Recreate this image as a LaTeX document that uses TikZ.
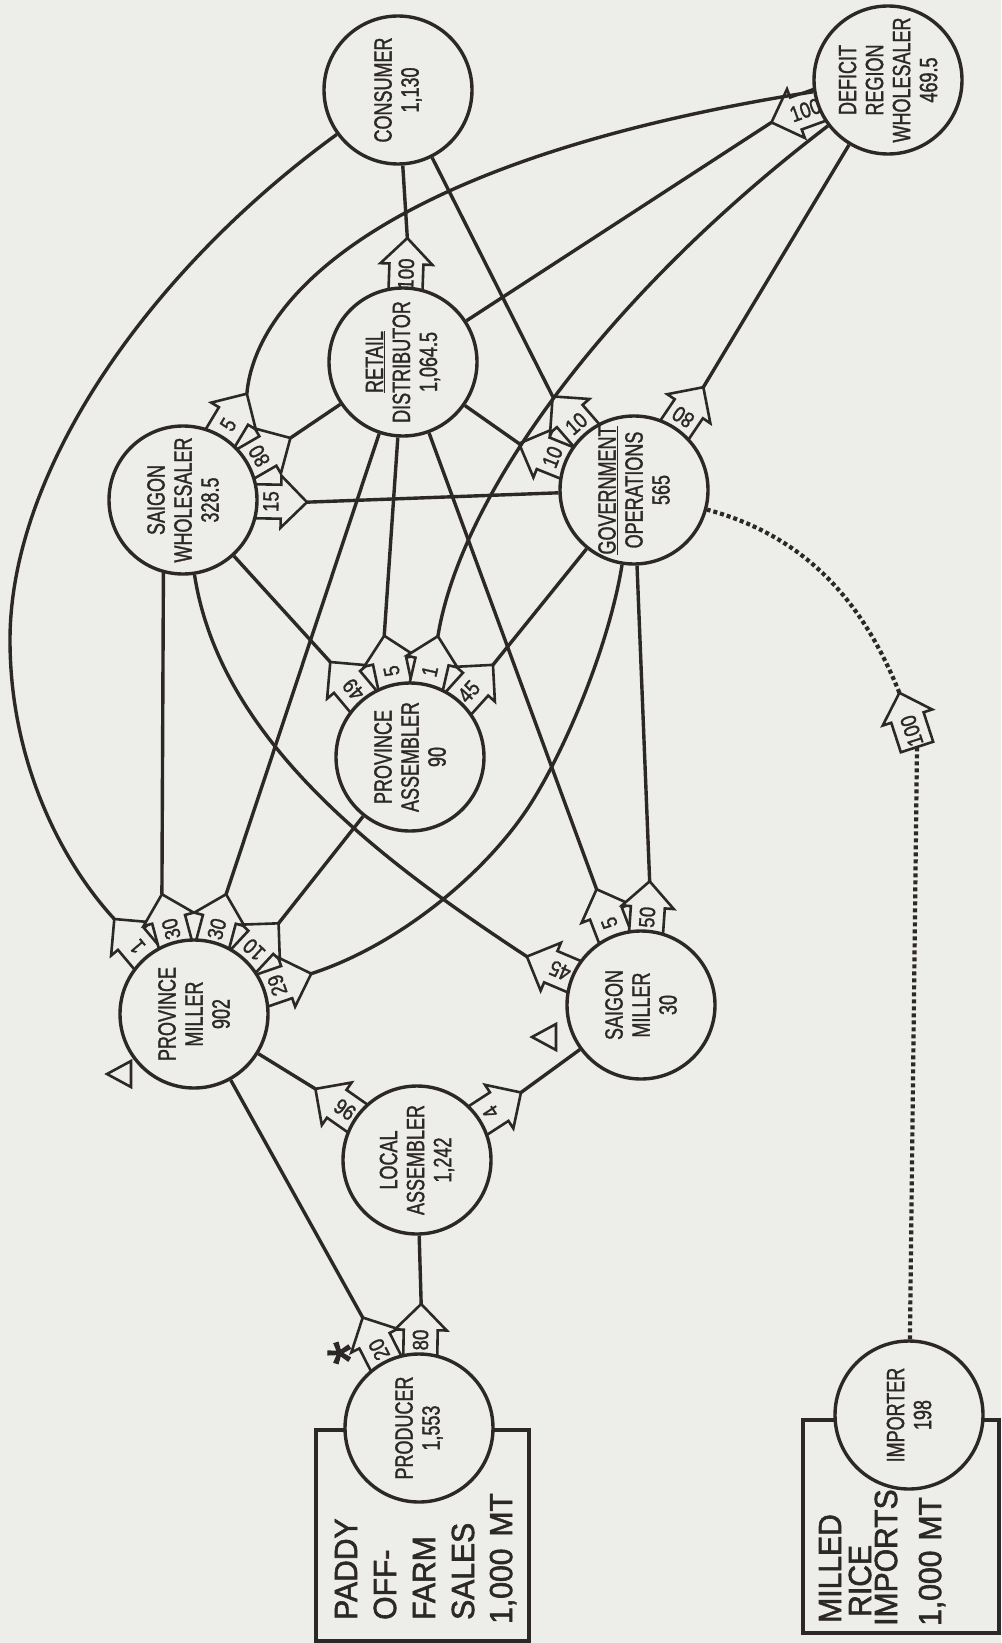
\documentclass[tikz,border=0pt]{standalone}
\usepackage{fontspec}
\setmainfont{Liberation Sans}
\newfontfamily\nfont[FakeStretch=0.72,FakeBold=1.2]{Liberation Sans}
\newfontfamily\lfont[FakeStretch=0.85,FakeBold=1.3]{Liberation Sans}
\newfontfamily\bfont[FakeStretch=0.94,FakeBold=1.8]{Liberation Sans}
\definecolor{bg}{RGB}{237,237,234}
\definecolor{ink}{RGB}{45,40,40}
\pgfdeclarelayer{front}
\pgfsetlayers{main,front}
\tikzset{
  circ/.style={circle, draw=ink, line width=3.4pt, fill=bg, minimum size=148pt, inner sep=0pt},
  ctext/.style={rotate=90, align=center, text=ink, inner sep=0pt, font=\nfont\fontsize{25}{27}\selectfont},
  conn/.style={draw=ink, line width=3.4pt},
  dotline/.style={draw=ink, line width=4.2pt, dash pattern=on 4pt off 3pt},
  arrowbox/.style={draw=ink, fill=bg, line width=2.6pt, line join=miter},
  alab/.style={text=ink, inner sep=0pt, font=\lfont\fontsize{22}{23}\selectfont},
  boxtext/.style={rotate=90, anchor=west, text=ink, inner sep=0pt, font=\bfont\fontsize{32}{36}\selectfont},
  boxline/.style={draw=ink, line width=3.2pt},
  marker/.style={draw=ink, line width=2.6pt, line join=miter},
}
\newcommand\flowarrow[5]{%
  \begin{scope}[shift={(#1.center)}, rotate=#2]
    \path[arrowbox] (68,17) -- (98,17) -- (98,26) -- (124,0) -- (98,-26) -- (98,-17) -- (68,-17);
    \coordinate (#5) at (124,0);
    \node[alab, rotate=#4] (#5-l) at (88,0) {#3};
  \end{scope}}
\begin{document}
\begin{tikzpicture}[x=1pt,y=-1pt]
\useasboundingbox (0,0) rectangle (1001,1643);
\fill[bg] (0,0) rectangle (1001,1643);

% ---------- circles (front layer) ----------
\begin{pgfonlayer}{front}
\node[circ] (con) at (398,90) {};
\node[circ] (ret) at (403,362) {};
\node[circ] (def) at (888,80) {};
\node[circ] (gov) at (634,490) {};
\node[circ] (sw)  at (183,500) {};
\node[circ] (pa)  at (410,757) {};
\node[circ] (pm)  at (194,1014) {};
\node[circ] (sm)  at (641,1005) {};
\node[circ] (la)  at (417,1160) {};
\node[circ] (pro) at (419,1428) {};
\node[circ] (imp) at (909,1415) {};
\node[ctext] (con-t) at (con) {CONSUMER\\1,130};
\node[ctext] (ret-t) at (ret) {\underline{RETAIL}\\DISTRIBUTOR\\1,064.5};
\node[ctext] (def-t) at (def) {DEFICIT\\REGION\\WHOLESALER\\469.5};
\node[ctext] (gov-t) at (gov) {\underline{GOVERNMENT}\\OPERATIONS\\565};
\node[ctext] (sw-t)  at (sw)  {SAIGON\\WHOLESALER\\328.5};
\node[ctext] (pa-t)  at (pa)  {PROVINCE\\ASSEMBLER\\90};
\node[ctext] (pm-t)  at (pm)  {PROVINCE\\MILLER\\902};
\node[ctext] (sm-t)  at (sm)  {SAIGON\\MILLER\\30};
\node[ctext] (la-t)  at (la)  {LOCAL\\ASSEMBLER\\1,242};
\node[ctext] (pro-t) at (pro) {PRODUCER\\1,553};
\node[ctext] (imp-t) at (imp) {IMPORTER\\198};
\end{pgfonlayer}

% ---------- boxes ----------
\draw[boxline] (316,1641) -- (316,1430) -- (529,1430) -- (529,1641) -- cycle;
\draw[boxline] (803,1420) rectangle (999,1633);
\node[boxtext] (b1) at (346,1620) {PADDY};
\node[boxtext] (b2) at (385,1620) {OFF-};
\node[boxtext] (b3) at (424,1620) {FARM};
\node[boxtext] (b4) at (463,1620) {SALES};
\node[boxtext] (b5) at (503,1624) {1,000\hspace{12pt}MT};
\node[boxtext] (m1) at (830,1623) {MILLED};
\node[boxtext] (m2) at (860,1617) {RICE};
\node[boxtext] (m3) at (886,1626) {IMPORTS};
\node[boxtext] (m4) at (932,1626) {1,000\hspace{10pt}MT};

% ---------- markers ----------
\draw[marker] (107,1074) -- (131,1061) -- (131,1087) -- cycle;
\draw[marker] (532,1037) -- (556,1024) -- (556,1050) -- cycle;
\node[rotate=90, text=ink, inner sep=0pt, font=\bfont\fontsize{64}{64}\selectfont] (ast) at (350,1353) {*};

% ---------- flow arrows ----------
\flowarrow{pro}{89}{80}{90}{pro-80}
\flowarrow{pro}{117}{20}{117}{pro-20}
\flowarrow{la}{145}{96}{145}{la-96}
\flowarrow{la}{33}{4}{123}{la-4}
\flowarrow{pm}{130}{1}{130}{pm-1}
\flowarrow{pm}{105}{30}{105}{pm-30a}
\flowarrow{pm}{75}{30}{75}{pm-30b}
\flowarrow{pm}{47}{10}{137}{pm-10}
\flowarrow{pm}{19}{29}{109}{pm-29}
\flowarrow{sm}{157}{45}{157}{sm-45}
\flowarrow{sm}{111}{5}{111}{sm-5}
\flowarrow{sm}{86}{50}{86}{sm-50}
\flowarrow{pa}{130}{49}{130}{pa-49}
\flowarrow{pa}{102}{5}{102}{pa-5}
\flowarrow{pa}{77}{1}{77}{pa-1}
\flowarrow{pa}{48}{45}{48}{pa-45}
\flowarrow{sw}{59}{5}{59}{sw-5}
\flowarrow{sw}{30}{80}{120}{sw-80}
\flowarrow{sw}{-1}{15}{89}{sw-15}
\flowarrow{ret}{88}{100}{88}{ret-100}
\flowarrow{gov}{158}{10}{68}{gov-10l}
\flowarrow{gov}{131}{10}{41}{gov-10r}
\flowarrow{gov}{56}{80}{146}{gov-80}
\flowarrow{def}{200}{100}{20}{def-100}

% mid-line arrow on the import flow
\coordinate (impb) at (917,747);
\begin{scope}[shift={(impb)}, rotate=108]
  \path[arrowbox] (0,17) -- (31,17) -- (31,26) -- (57,0) -- (31,-26) -- (31,-17) -- (0,-17) -- cycle;
  \coordinate (impt) at (57,0);
  \node[alab, rotate=108] (impt-l) at (17,0) {100};
\end{scope}

% ---------- connectors ----------
\coordinate (lbend) at (10,640);
\coordinate (pmgov) at (533,800);
\draw[conn] (pro-80) -- (la);
\draw[conn] (pro-20) -- (pm);
\draw[conn] (la-96) -- (pm);
\draw[conn] (la-4) -- (sm);
\draw[conn] (pm-1) .. controls (60,860) and (10,760) .. (lbend) .. controls (10,470) and (150,270) .. (con);
\draw[conn] (pm-30a) -- (sw.255);
\draw[conn] (pm-30b) -- (ret);
\draw[conn] (pm-10) -- (pa);
\draw[conn] (pm-29) .. controls (400,945) and (490,870) .. (pmgov) .. controls (570,740) and (610,640) .. (gov);
\draw[conn] (sm-45) .. controls (380,860) and (220,740) .. (sw);
\draw[conn] (sm-5) -- (ret);
\draw[conn] (sm-50) -- (gov);
\draw[conn] (pa-49) -- (sw);
\draw[conn] (pa-5) -- (ret);
\draw[conn] (pa-1) .. controls (460,500) and (600,300) .. (def);
\draw[conn] (pa-45) -- (gov);
\draw[conn] (sw-5) .. controls (255,300) and (380,160) .. (def);
\draw[conn] (sw-80) -- (ret);
\draw[conn] (sw-15) -- (gov);
\draw[conn] (ret-100) -- (con);
\draw[conn] (gov-10l) -- (ret);
\draw[conn] (gov-10r) -- (con);
\draw[conn] (gov-80) -- (def);
\draw[conn] (def-100) -- (ret);
\draw[dotline] (imp) -- (impb);
\draw[dotline] (impt) .. controls (870,620) and (820,540) .. (gov);
\end{tikzpicture}
\end{document}
